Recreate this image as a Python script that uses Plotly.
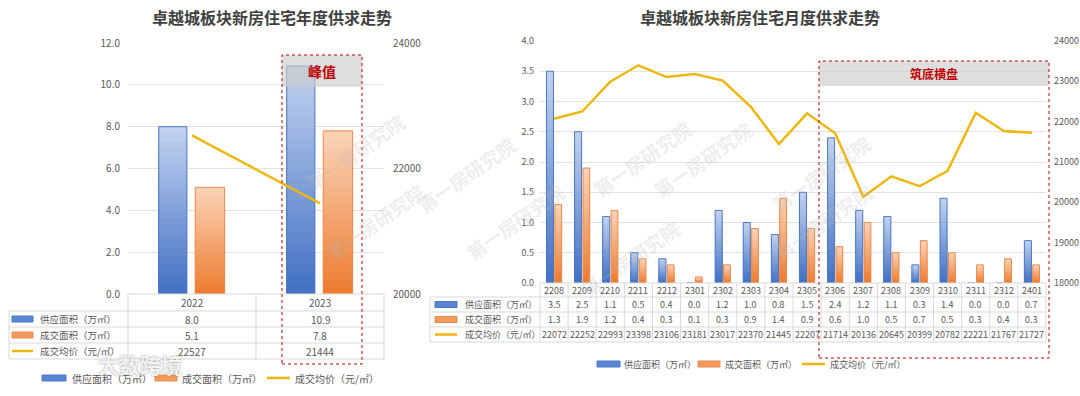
import plotly.graph_objects as go

W, H = 1080, 396

# ---------------- data ----------------
years = ["2022", "2023"]
year_supply = [8.0, 10.9]
year_deal = [5.1, 7.8]
year_price = [22527, 21444]

months = ["2208", "2209", "2210", "2211", "2212", "2301", "2302", "2303", "2304",
          "2305", "2306", "2307", "2308", "2309", "2310", "2311", "2312", "2401"]
month_supply = [3.5, 2.5, 1.1, 0.5, 0.4, 0.0, 1.2, 1.0, 0.8, 1.5, 2.4, 1.2, 1.1, 0.3, 1.4, 0.0, 0.0, 0.7]
month_deal = [1.3, 1.9, 1.2, 0.4, 0.3, 0.1, 0.3, 0.9, 1.4, 0.9, 0.6, 1.0, 0.5, 0.7, 0.5, 0.3, 0.4, 0.3]
month_price = [22072, 22252, 22993, 23398, 23106, 23181, 23017, 22370, 21445, 22207,
               21714, 20136, 20645, 20399, 20782, 22221, 21767, 21727]

row_labels = ["供应面积（万㎡）", "成交面积（万㎡）", "成交均价（元/㎡）"]
title_left = "卓越城板块新房住宅年度供求走势"
title_right = "卓越城板块新房住宅月度供求走势"
note_left = "峰值"
note_right = "筑底横盘"
watermark = "第一房研究院"
logo_text = "大数跨境"

# ---------------- style ----------------
FONT = "Noto Sans CJK SC, Noto Sans, sans-serif"
TXT = "#595959"
GRID = "#e3e3e3"
BORDER = "#d9d9d9"
BLUE_TOP, BLUE_BOT, BLUE_LINE = (192, 208, 238), (68, 114, 196), "#4a78c8"
OR_TOP, OR_BOT, OR_LINE = (250, 210, 182), (237, 125, 49), "#ec8a4a"
GOLD = "#EDB70F"
RED = "#c00000"


def fx(p):
    return p / W


def fy(p):
    return 1 - p / H


fig = go.Figure()


def rgb(c):
    return "rgb(%d,%d,%d)" % c


def grad_bars(cats, vals, xa, ya, off, wid, top, bot, line_col, steps=22):
    for k in range(steps):
        t = k / (steps - 1)
        c = tuple(round(top[i] + (bot[i] - top[i]) * t) for i in range(3))
        frac = 1 - k / steps
        fig.add_trace(go.Bar(x=cats, y=[v * frac for v in vals], offset=off, width=wid,
                             xaxis=xa, yaxis=ya, marker=dict(color=rgb(c), line=dict(width=0)),
                             hoverinfo="skip", showlegend=False))
    fig.add_trace(go.Bar(x=cats, y=vals, offset=off, width=wid, xaxis=xa, yaxis=ya,
                         marker=dict(color="rgba(0,0,0,0)", line=dict(color=line_col, width=1)),
                         showlegend=False))


# left chart bars + line
grad_bars(years, year_supply, "x", "y", -0.26, 0.22, BLUE_TOP, BLUE_BOT, BLUE_LINE)
grad_bars(years, year_deal, "x", "y", 0.025, 0.23, OR_TOP, OR_BOT, OR_LINE)
fig.add_trace(go.Scatter(x=years, y=year_price, xaxis="x", yaxis="y2", mode="lines",
                         line=dict(color=GOLD, width=2.5), showlegend=False))

# right chart bars + line
grad_bars(months, month_supply, "x2", "y3", -0.27, 0.25, BLUE_TOP, BLUE_BOT, BLUE_LINE)
grad_bars(months, month_deal, "x2", "y3", 0.03, 0.24, OR_TOP, OR_BOT, OR_LINE)
fig.add_trace(go.Scatter(x=months, y=month_price, xaxis="x2", yaxis="y4", mode="lines",
                         line=dict(color=GOLD, width=2.5), showlegend=False))

tickfont = dict(family=FONT, size=10, color=TXT)
tickfont9 = dict(family=FONT, size=9, color=TXT)
L_DOM = [fx(128), fx(384)]
R_DOM = [fx(540), fx(1046)]

fig.update_layout(
    width=W, height=H, margin=dict(l=0, r=0, t=0, b=0, autoexpand=False),
    paper_bgcolor="white", plot_bgcolor="white", barmode="overlay",
    font=dict(family=FONT, color=TXT),
    xaxis=dict(domain=L_DOM, anchor="y", type="category", range=[-0.5, 1.5], automargin=False,
               showticklabels=False, showgrid=False, zeroline=False, showline=False),
    yaxis=dict(domain=[fy(294), fy(43)], anchor="x", range=[0, 12], dtick=2, tickformat=".1f",
               gridcolor=GRID, zeroline=False, showline=False, tickfont=tickfont,
               ticklabelstandoff=7, automargin=False),
    yaxis2=dict(overlaying="y", anchor="x", side="right", range=[20000, 24000], dtick=2000,
                tickformat="d", showgrid=False, zeroline=False, showline=False, tickfont=tickfont,
                ticklabelstandoff=8, automargin=False),
    xaxis2=dict(domain=R_DOM, anchor="y3", type="category", range=[-0.5, 17.5], automargin=False,
                showticklabels=False, showgrid=False, zeroline=False, showline=False),
    yaxis3=dict(domain=[fy(283), fy(41)], anchor="x2", range=[0, 4], dtick=0.5, tickformat=".1f",
                gridcolor=GRID, zeroline=False, showline=False,
                tickfont=tickfont9, ticklabelstandoff=5, automargin=False),
    yaxis4=dict(overlaying="y3", anchor="x2", side="right", range=[18000, 24000], dtick=1000,
                tickformat="d", showgrid=False, zeroline=False, showline=False,
                tickfont=tickfont9, ticklabelstandoff=7, automargin=False),
)

shapes = []
ann = []


def hline(x0, x1, y, col=BORDER):
    shapes.append(dict(type="line", xref="paper", yref="paper", x0=fx(x0), x1=fx(x1),
                       y0=fy(y), y1=fy(y), line=dict(color=col, width=1)))


def vline(x, y0, y1, col=BORDER):
    shapes.append(dict(type="line", xref="paper", yref="paper", x0=fx(x), x1=fx(x),
                       y0=fy(y0), y1=fy(y1), line=dict(color=col, width=1)))


def text(x, y, s, size=10, color=TXT, xanchor="center", bold=False, **kw):
    ann.append(dict(xref="paper", yref="paper", x=fx(x), y=fy(y), text=("<b>%s</b>" % s) if bold else s,
                    showarrow=False, xanchor=xanchor, yanchor="middle",
                    font=dict(family=FONT, size=size, color=color), **kw))


def key(kind, x0, x1, yc):
    if kind == 0:
        shapes.append(dict(type="rect", xref="paper", yref="paper", x0=fx(x0), x1=fx(x1),
                           y0=fy(yc + 3), y1=fy(yc - 3), fillcolor="#5b85d0",
                           line=dict(color=BLUE_LINE, width=1)))
    elif kind == 1:
        shapes.append(dict(type="rect", xref="paper", yref="paper", x0=fx(x0), x1=fx(x1),
                           y0=fy(yc + 3), y1=fy(yc - 3), fillcolor="#f09a5e",
                           line=dict(color=OR_LINE, width=1)))
    else:
        shapes.append(dict(type="line", xref="paper", yref="paper", x0=fx(x0), x1=fx(x1),
                           y0=fy(yc), y1=fy(yc), line=dict(color=GOLD, width=2.5)))


# ---------------- left table ----------------
lx0, lx1, lhx = 128, 384, 9
l_rows = [294, 311, 327, 343, 359]
ncol = len(years)
hline(lx0, lx1, l_rows[0])
for yy in l_rows[1:]:
    hline(lhx, lx1, yy)
for i in range(ncol + 1):
    vline(lx0 + (lx1 - lx0) * i / ncol, l_rows[0], l_rows[-1])
vline(lhx, l_rows[1], l_rows[-1])
l_vals = [[f"{v:.1f}" for v in year_supply], [f"{v:.1f}" for v in year_deal], [f"{v:d}" for v in year_price]]
for i, c in enumerate(years):
    xc = lx0 + (lx1 - lx0) * (i + 0.5) / ncol
    text(xc, (l_rows[0] + l_rows[1]) / 2, c)
    for r in range(3):
        text(xc, (l_rows[r + 1] + l_rows[r + 2]) / 2, l_vals[r][i])
for r in range(3):
    yc = (l_rows[r + 1] + l_rows[r + 2]) / 2
    key(r, 12, 33, yc)
    text(38, yc, row_labels[r], size=9.5, xanchor="left")

# ---------------- right table ----------------
rx0, rx1, rhx = 540, 1046, 430
r_rows = [283, 297, 312, 327, 342]
mcol = len(months)
hline(rx0, rx1, r_rows[0])
for yy in r_rows[1:]:
    hline(rhx, rx1, yy)
for i in range(mcol + 1):
    vline(rx0 + (rx1 - rx0) * i / mcol, r_rows[0], r_rows[-1])
vline(rhx, r_rows[1], r_rows[-1])
r_vals = [[f"{v:.1f}" for v in month_supply], [f"{v:.1f}" for v in month_deal], [f"{v:d}" for v in month_price]]
for i, c in enumerate(months):
    xc = rx0 + (rx1 - rx0) * (i + 0.5) / mcol
    text(xc, (r_rows[0] + r_rows[1]) / 2, c, size=9)
    for r in range(3):
        text(xc, (r_rows[r + 1] + r_rows[r + 2]) / 2, r_vals[r][i], size=9)
for r in range(3):
    yc = (r_rows[r + 1] + r_rows[r + 2]) / 2
    key(r, 435, 457, yc)
    text(463, yc, row_labels[r], size=9, xanchor="left")

# ---------------- legends ----------------
ly = 378
key(0, 42, 66, ly); text(70, ly, row_labels[0], xanchor="left")
key(1, 155, 177, ly); text(180, ly, row_labels[1], xanchor="left")
key(2, 267, 290, ly); text(293, ly, row_labels[2], xanchor="left")
ry = 364
key(0, 597, 620, ry); text(622, ry, row_labels[0], size=9, xanchor="left")
key(1, 698, 720, ry); text(723, ry, row_labels[1], size=9, xanchor="left")
key(2, 802, 825, ry); text(828, ry, row_labels[2], size=9, xanchor="left")

# ---------------- highlight boxes ----------------
for (x0, x1, y0, yb, y1, label, fs) in [(282, 362, 55, 87, 364, note_left, 14),
                                         (819, 1049, 61, 86, 358, note_right, 12)]:
    shapes.append(dict(type="rect", xref="paper", yref="paper", x0=fx(x0), x1=fx(x1),
                       y0=fy(yb), y1=fy(y0), fillcolor="rgba(205,205,205,0.65)",
                       line=dict(width=0), layer="above"))
    shapes.append(dict(type="rect", xref="paper", yref="paper", x0=fx(x0), x1=fx(x1),
                       y0=fy(y1), y1=fy(y0), fillcolor="rgba(0,0,0,0)",
                       line=dict(color=RED, width=1, dash="dot"), layer="above"))
    text((x0 + x1) / 2, (y0 + yb) / 2, label, size=fs, color=RED, bold=True)

# ---------------- titles ----------------
text(272, 17, title_left, size=16, color="#404040", bold=True)
text(760, 17, title_right, size=16, color="#404040", bold=True)

# ---------------- watermarks ----------------
for (wx, wy) in [(298, 105), (466, 128), (318, 268), (642, 112), (760, 160),
                 (515, 268), (878, 127), (880, 222), (630, 305)]:
    ann.append(dict(xref="paper", yref="paper", x=fx(wx), y=fy(wy), text="<b>%s</b>" % watermark,
                    showarrow=False, textangle=-35,
                    font=dict(family=FONT, size=19, color="rgba(185,185,185,0.25)")))

# logo watermark
ann.append(dict(xref="paper", yref="paper", x=fx(96), y=fy(381), text="<b>%s</b>" % logo_text,
                showarrow=False, font=dict(family=FONT, size=21, color="rgba(255,255,255,0.9)",
                                           shadow="0px 0px 2px rgba(110,110,110,0.9)")))

fig.update_layout(shapes=shapes, annotations=ann)
fig.write_html("out.html", config={"displayModeBar": False},
               post_script="document.body.style.margin='0px';document.body.style.overflow='hidden';")
